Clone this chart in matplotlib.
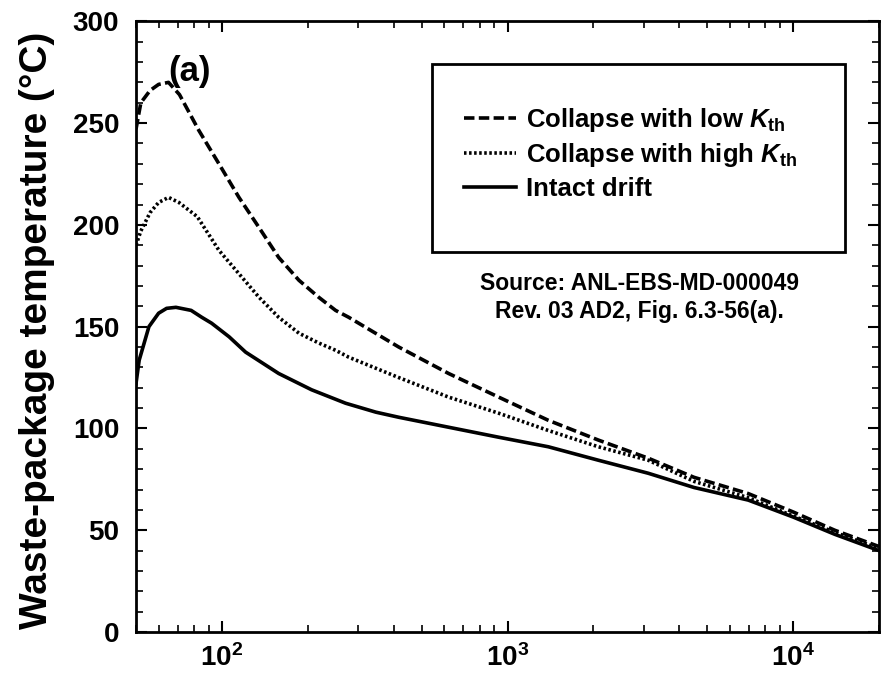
import numpy as np
import matplotlib
matplotlib.use('Agg')
from matplotlib import pyplot as plt
from matplotlib.patches import Rectangle
from matplotlib.ticker import MultipleLocator, LogLocator, NullFormatter

plt.rcParams['font.family'] = ['Liberation Sans', 'DejaVu Sans']
plt.rcParams['font.weight'] = 'bold'
plt.rcParams['mathtext.fontset'] = 'custom'
plt.rcParams['mathtext.rm'] = 'Liberation Sans:bold'
plt.rcParams['mathtext.bf'] = 'Liberation Sans:bold'
plt.rcParams['mathtext.it'] = 'Liberation Sans:italic:bold'

# time (years) | temperature (°C)
t_low = [50, 52, 56, 60, 65, 71, 83, 97.6, 114.7, 134.7, 158, 186, 218, 250,
         278, 416, 622, 931, 1390, 2080, 3110, 4500, 6970, 10000, 14000, 20000]
T_low = [247, 260, 266, 269, 270, 264, 246.4, 230, 213.5, 198.8, 184, 172.8,
         164.5, 158, 154.6, 140, 127, 115.4, 104, 94.3, 85.4, 76, 68, 59, 50, 42]

t_high = [50, 52, 56, 60, 65, 70.7, 82, 97.6, 114.7, 134.7, 158, 186, 218, 250,
          278, 416, 622, 931, 1390, 2080, 3110, 4500, 6970, 10000, 14000, 20000]
T_high = [190, 197, 206, 211, 213.5, 211, 204, 187.5, 176, 164.5, 154.6, 146.8,
          142, 138.4, 135, 125, 115.4, 107.5, 99, 91, 84.4, 74, 66, 57, 49, 41]

t_intact = [50, 51.3, 55.5, 60, 64, 69, 78, 85, 92, 106, 121, 158, 206, 271,
            346, 416, 622, 931, 1390, 2080, 3110, 4500, 6970, 10000, 14000, 20000]
T_intact = [122, 133.5, 150, 156.6, 159, 159.5, 158, 154.6, 151.7, 145, 137.5, 127,
            119, 112.4, 108, 105.5, 100.6, 95.7, 91, 84.4, 78, 71, 64.8, 56.5, 48, 40]

labels = [r'Collapse with low $K_{\rm th}$',
          r'Collapse with high $K_{\rm th}$',
          'Intact drift']

fig = plt.figure(figsize=(8.83, 6.87), dpi=100)
ax = fig.add_axes([0.154, 0.080, 0.8415, 0.889])

ax.plot(t_low, T_low, color='black', lw=2.6, ls=(0, (2.9, 1.2)), label=labels[0])
ax.plot(t_high, T_high, color='black', lw=2.6, ls=(0, (0.7, 0.7)), label=labels[1])
ax.plot(t_intact, T_intact, color='black', lw=2.6, ls='-', label=labels[2])

ax.set_xscale('log')
ax.set_xlim(50, 20000)
ax.set_ylim(0, 300)

ax.set_xticks([1e2, 1e3, 1e4])
ax.set_xticklabels([r'$10^{2}$', r'$10^{3}$', r'$10^{4}$'])
ax.xaxis.set_minor_locator(LogLocator(base=10, subs=np.arange(2, 10)))
ax.xaxis.set_minor_formatter(NullFormatter())
ax.yaxis.set_major_locator(MultipleLocator(50))
ax.yaxis.set_minor_locator(MultipleLocator(10))

ax.tick_params(which='both', direction='in', top=True, right=True)
ax.tick_params(which='major', length=8, width=1.5)
ax.tick_params(which='minor', length=5, width=1.2)
ax.tick_params(axis='y', labelsize=20, pad=12)
ax.tick_params(axis='x', labelsize=20, pad=9)
for s in ax.spines.values():
    s.set_linewidth(2)

ax.set_ylabel('Waste-package temperature (°C)', fontsize=28, fontweight='bold')
ax.yaxis.set_label_coords(-0.109, 0.494)

ax.text(0.0726, 0.918, '(a)', transform=ax.transAxes, fontsize=25,
        ha='center', va='center')

ax.add_patch(Rectangle((0.399, 0.622), 0.555, 0.308, transform=ax.transAxes,
                       fill=False, lw=2, color='black'))
ax.legend(loc='center left', bbox_to_anchor=(0.442, 0.784), frameon=False,
          fontsize=18.5, handlelength=2.0, handletextpad=0.4, labelspacing=0.3,
          borderpad=0, borderaxespad=0)

ax.text(0.677, 0.570, 'Source: ANL-EBS-MD-000049', transform=ax.transAxes,
        fontsize=16.5, ha='center', va='center')
ax.text(0.677, 0.525, 'Rev. 03 AD2, Fig. 6.3-56(a).', transform=ax.transAxes,
        fontsize=16.5, ha='center', va='center')

fig.savefig('out.png', dpi=100)
